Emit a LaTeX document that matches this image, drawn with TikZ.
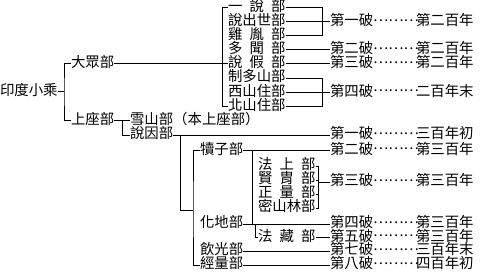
\documentclass[tikz,border=0pt]{standalone}
\usepackage{fontspec}
\setmainfont{Noto Sans CJK TC}
\newcommand{\hs}{\hspace{0.5em}}
\newcommand{\dotsrow}{\raisebox{0.3em}{………}}
\begin{document}
\begin{tikzpicture}[x=1pt,y=-1pt,
  every node/.style={inner sep=0pt, outer sep=0pt, anchor=west,
    font=\fontsize{14.4}{14.4}\selectfont, text height=0.88em, text depth=0.12em},
  ln/.style={line width=0.8pt, black}]
\useasboundingbox (0,0) rectangle (482,278);
% root and first split
\node (root) at (0,91.5) {印度小乘};
\node (dz) at (71,63.8) {大眾部};
\node (sz) at (71,120.6) {上座部};
\coordinate (j0) at (64,91.5);
\draw[ln] (root.east) -- (j0);
\draw[ln] (dz.west) -| (j0) |- (sz.west);
% Mahasanghika schools
\node (a1) at (228,7.6) {一\hs 說\hs 部};
\node (a2) at (228,21.6) {說出世部};
\node (a3) at (228,35.6) {雞\hs 胤\hs 部};
\node (a4) at (228,49.7) {多\hs 聞\hs 部};
\node (a5) at (228,63.8) {說\hs 假\hs 部};
\node (a6) at (228,78.0) {制多山部};
\node (a7) at (228,92.2) {西山住部};
\node (a8) at (228,106.4) {北山住部};
\coordinate (j1) at (222,63.8);
\draw[ln] (dz.east) -- (a5.west);
\draw[ln] (a1.west) -| (j1);
\draw[ln] (a8.west) -| (j1);
% splits (top)
\node (p1) at (330,21.6) {第一破};
\node (d1) at (373,21.6) {\dotsrow};
\node (y1) at (416,21.6) {第二百年};
\node (p2) at (330,49.7) {第二破};
\node (d2) at (373,49.7) {\dotsrow};
\node (y2) at (416,49.7) {第二百年};
\node (p3) at (330,63.8) {第三破};
\node (d3) at (373,63.8) {\dotsrow};
\node (y3) at (416,63.8) {第二百年};
\node (p4) at (330,92.2) {第四破};
\node (d4) at (373,92.2) {\dotsrow};
\node (y4) at (416,92.2) {二百年末};
\coordinate (b1) at (322,21.6);
\coordinate (b2) at (322,92.2);
\draw[ln] (a1.east) -| (b1);
\draw[ln] (a3.east) -| (b1);
\draw[ln] (a2.east) -- (p1.west);
\draw[ln] (a4.east) -- (p2.west);
\draw[ln] (a5.east) -- (p3.west);
\draw[ln] (a6.east) -| (b2);
\draw[ln] (a8.east) -| (b2);
\draw[ln] (a7.east) -- (p4.west);
% Sthavira
\node (xs) at (130,120.6) {雪山部（本上座部）};
\node (sy) at (130,135) {說因部};
\coordinate (j2) at (122,120.6);
\draw[ln] (sz.east) -- (xs.west);
\draw[ln] (j2) |- (sy.west);
\node (dzz) at (200,150.5) {犢子部};
\node (f1) at (258,166) {法\hs 上\hs 部};
\node (f2) at (258,180) {賢\hs 胄\hs 部};
\node (f3) at (258,194) {正\hs 量\hs 部};
\node (f4) at (258,208) {密山林部};
\node (hd) at (200,224) {化地部};
\node (fz) at (258,237.5) {法\hs 藏\hs 部};
\node (yg) at (200,251) {飲光部};
\node (jl) at (200,265) {經量部};
% splits (bottom)
\node (q1) at (330,135) {第一破};
\node (e1) at (373,135) {\dotsrow};
\node (z1) at (416,135) {三百年初};
\node (q2) at (330,150.5) {第二破};
\node (e2) at (373,150.5) {\dotsrow};
\node (z2) at (416,150.5) {第三百年};
\node (q3) at (330,182) {第三破};
\node (e3) at (373,182) {\dotsrow};
\node (z3) at (416,182) {第三百年};
\node (q4) at (330,224) {第四破};
\node (e4) at (373,224) {\dotsrow};
\node (z4) at (416,224) {第三百年};
\node (q5) at (330,237.5) {第五破};
\node (e5) at (373,237.5) {\dotsrow};
\node (z5) at (416,237.5) {第三百年};
\node (q6) at (330,251) {第七破};
\node (e6) at (373,251) {\dotsrow};
\node (z6) at (416,251) {三百年末};
\node (q7) at (330,265) {第八破};
\node (e7) at (373,265) {\dotsrow};
\node (z7) at (416,265) {四百年初};
% connectors (bottom)
\draw[ln] (sy.east) -- (q1.west);
\coordinate (j3) at (180,135);
\coordinate (j4) at (193,210);
\draw[ln] (j3) |- (j4);
\draw[ln] (dzz.west) -| (j4) |- (jl.west);
\draw[ln] (dzz.east) -- (q2.west);
\coordinate (j5) at (252,150.5);
\coordinate (j6) at (252,224);
\draw[ln] (j5) -- (j6);
\coordinate (b3) at (318,182);
\draw[ln] (f1.east) -| (b3);
\draw[ln] (f4.east) -| (b3);
\draw[ln] (f2.east) -- (f2.east -| b3);
\draw[ln] (f3.east) -- (f3.east -| b3);
\draw[ln] (b3) -- (q3.west);
\draw[ln] (hd.east) -- (q4.west);
\coordinate (j7) at (255,224);
\draw[ln] (j7) |- (fz.west);
\draw[ln] (fz.east) -- (q5.west);
\draw[ln] (yg.east) -- (q6.west);
\draw[ln] (jl.east) -- (q7.west);
\end{tikzpicture}
\end{document}
